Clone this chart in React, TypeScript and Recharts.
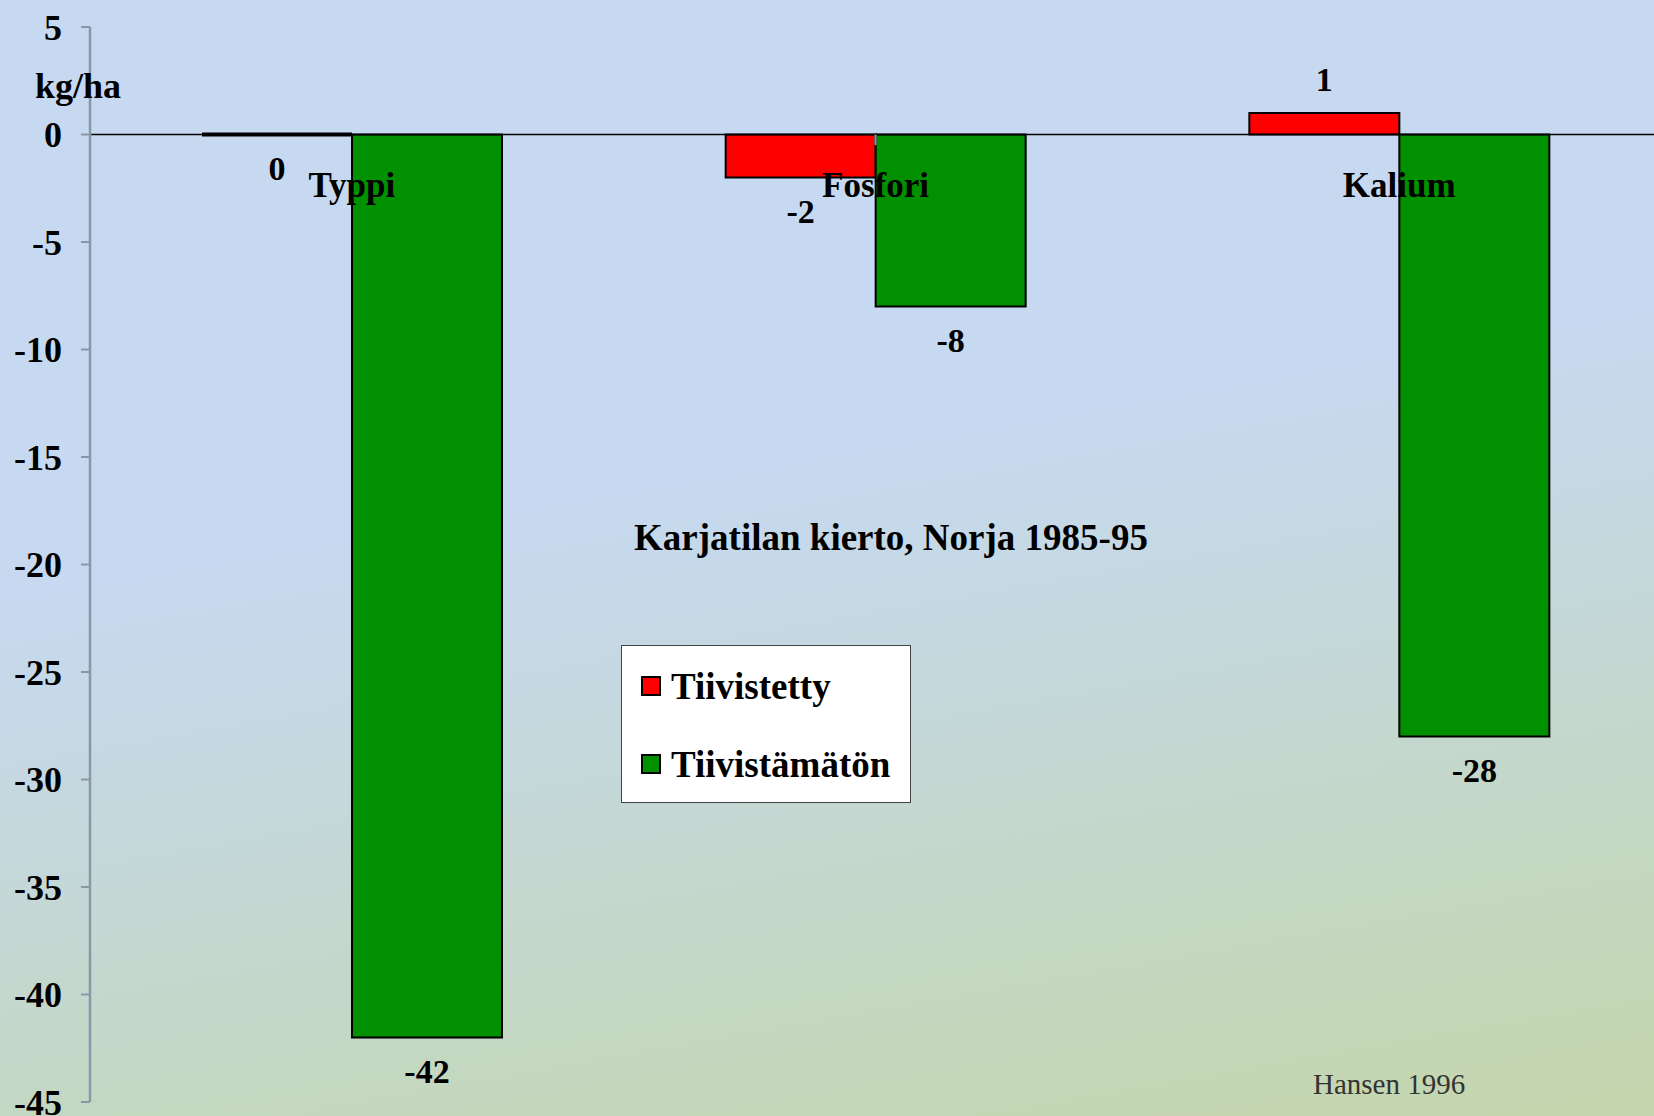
import React from 'react'
import {
  BarChart, Bar, XAxis, YAxis, ReferenceLine, ReferenceDot, LabelList, Legend,
} from 'recharts'

const CATEGORIES = ['Typpi', 'Fosfori', 'Kalium']
const TIIVISTETTY = [0, -2, 1]
const TIIVISTAMATON = [-42, -8, -28]
const Y_TICKS = [5, 0, -5, -10, -15, -20, -25, -30, -35, -40, -45]
const BAND_EDGES = [1, 2]

const data = CATEGORIES.map((name, i) => ({
  name,
  tiivistetty: TIIVISTETTY[i],
  tiivistamaton: TIIVISTAMATON[i],
}))

const FONT = '"Liberation Serif", "Times New Roman", serif'
const AXIS_GREY = '#8a98a6'

// bar with black border; a zero bar becomes a thick black line
const BorderedBar = (props: any) => {
  const { x, y, width, height, fill } = props
  if (!height) {
    return <line x1={x} x2={x + width} y1={y} y2={y} stroke="#000" strokeWidth={4} />
  }
  const top = Math.min(y, y + height)
  return (
    <rect x={x} y={top} width={width} height={Math.abs(height)} fill={fill} stroke="#000" strokeWidth={2} />
  )
}

const ValueLabel = (props: any) => {
  const vb = props.viewBox ?? props
  const { x, y, width, height } = vb
  const value = Number(props.value)
  const top = Math.min(y, y + height)
  const bottom = Math.max(y, y + height)
  const cy = value > 0 ? top - 34 : bottom + 34
  return (
    <text
      x={x + width / 2}
      y={cy}
      textAnchor="middle"
      dominantBaseline="central"
      fontFamily={FONT}
      fontWeight="bold"
      fontSize={34}
      fill="#000"
    >
      {value}
    </text>
  )
}

const LegendBox = (props: any) => {
  const items = props.payload ?? []
  return (
    <div
      style={{
        width: 290, height: 158, boxSizing: 'border-box', background: '#fff',
        border: '1.5px solid #444', paddingTop: 1, fontFamily: FONT,
      }}
    >
      {items.map((it: any) => (
        <div key={it.value} style={{ height: 78, display: 'flex', alignItems: 'center', paddingLeft: 19 }}>
          <span
            style={{
              width: 20, height: 20, boxSizing: 'border-box', background: it.color,
              border: '2px solid #000', display: 'inline-block', marginRight: 10,
            }}
          />
          <span style={{ fontSize: 37, fontWeight: 'bold', color: '#000', lineHeight: 1 }}>{it.value}</span>
        </div>
      ))}
    </div>
  )
}

export default function App() {
  return (
    <div
      style={{
        position: 'absolute', left: 0, top: 0, width: 1654, height: 1116, overflow: 'hidden',
        background: 'linear-gradient(170deg, #c6d9f1 0%, #c6d9f1 42%, #c5d8da 62%, #c4d7c2 80%, #c4d6ac 100%)',
        fontFamily: FONT,
      }}
    >
      <BarChart
        width={1661}
        height={1116}
        data={data}
        barSize={150}
        barGap={0}
        margin={{ top: 27, right: 0, bottom: 14, left: 0 }}
      >
        <XAxis dataKey="name" hide />
        <XAxis xAxisId="edges" type="number" domain={[0, 3]} hide />
        <YAxis
          domain={[-45, 5]}
          ticks={Y_TICKS}
          interval={0}
          width={90}
          tickSize={9}
          tickMargin={19}
          axisLine={{ stroke: AXIS_GREY, strokeWidth: 2.5 }}
          tickLine={{ stroke: AXIS_GREY, strokeWidth: 2 }}
          tick={{ fill: '#000', fontSize: 36, fontWeight: 'bold', fontFamily: FONT }}
        />
        <ReferenceLine y={0} stroke="#000" strokeWidth={1.5} />
        {BAND_EDGES.map((e) => (
          <ReferenceLine
            key={e}
            xAxisId="edges"
            segment={[{ x: e, y: 0 }, { x: e, y: -0.5 }]}
            stroke={AXIS_GREY}
            strokeWidth={2}
          />
        ))}
        <Legend
          layout="vertical"
          align="center"
          verticalAlign="middle"
          content={<LegendBox />}
          wrapperStyle={{ left: 621, top: 645, width: 290, height: 158 }}
        />
        <Bar dataKey="tiivistetty" name="Tiivistetty" fill="#ff0000" shape={BorderedBar} isAnimationActive={false}>
          <LabelList dataKey="tiivistetty" content={ValueLabel} />
        </Bar>
        <Bar dataKey="tiivistamaton" name="Tiivistämätön" fill="#009000" shape={BorderedBar} isAnimationActive={false}>
          <LabelList dataKey="tiivistamaton" content={ValueLabel} />
        </Bar>
        {CATEGORIES.map((c) => (
          <ReferenceDot
            key={c}
            x={c}
            y={0}
            r={0}
            shape={(p: any) => (
              <text
                x={p.cx}
                y={p.cy + 62.5}
                textAnchor="middle"
                fontFamily={FONT}
                fontWeight="bold"
                fontSize={35}
                fill="#000"
              >
                {c}
              </text>
            )}
          />
        ))}
      </BarChart>

      <div style={{ position: 'absolute', left: 35, top: 68, fontSize: 36, fontWeight: 'bold', lineHeight: 1, color: '#000' }}>
        kg/ha
      </div>
      <div
        style={{
          position: 'absolute', left: 591, width: 600, top: 519, textAlign: 'center',
          fontSize: 37, fontWeight: 'bold', lineHeight: 1, color: '#000',
        }}
      >
        Karjatilan kierto, Norja 1985-95
      </div>
      <div style={{ position: 'absolute', left: 1313, top: 1070, fontSize: 29, lineHeight: 1, color: '#333' }}>
        Hansen 1996
      </div>
    </div>
  )
}
